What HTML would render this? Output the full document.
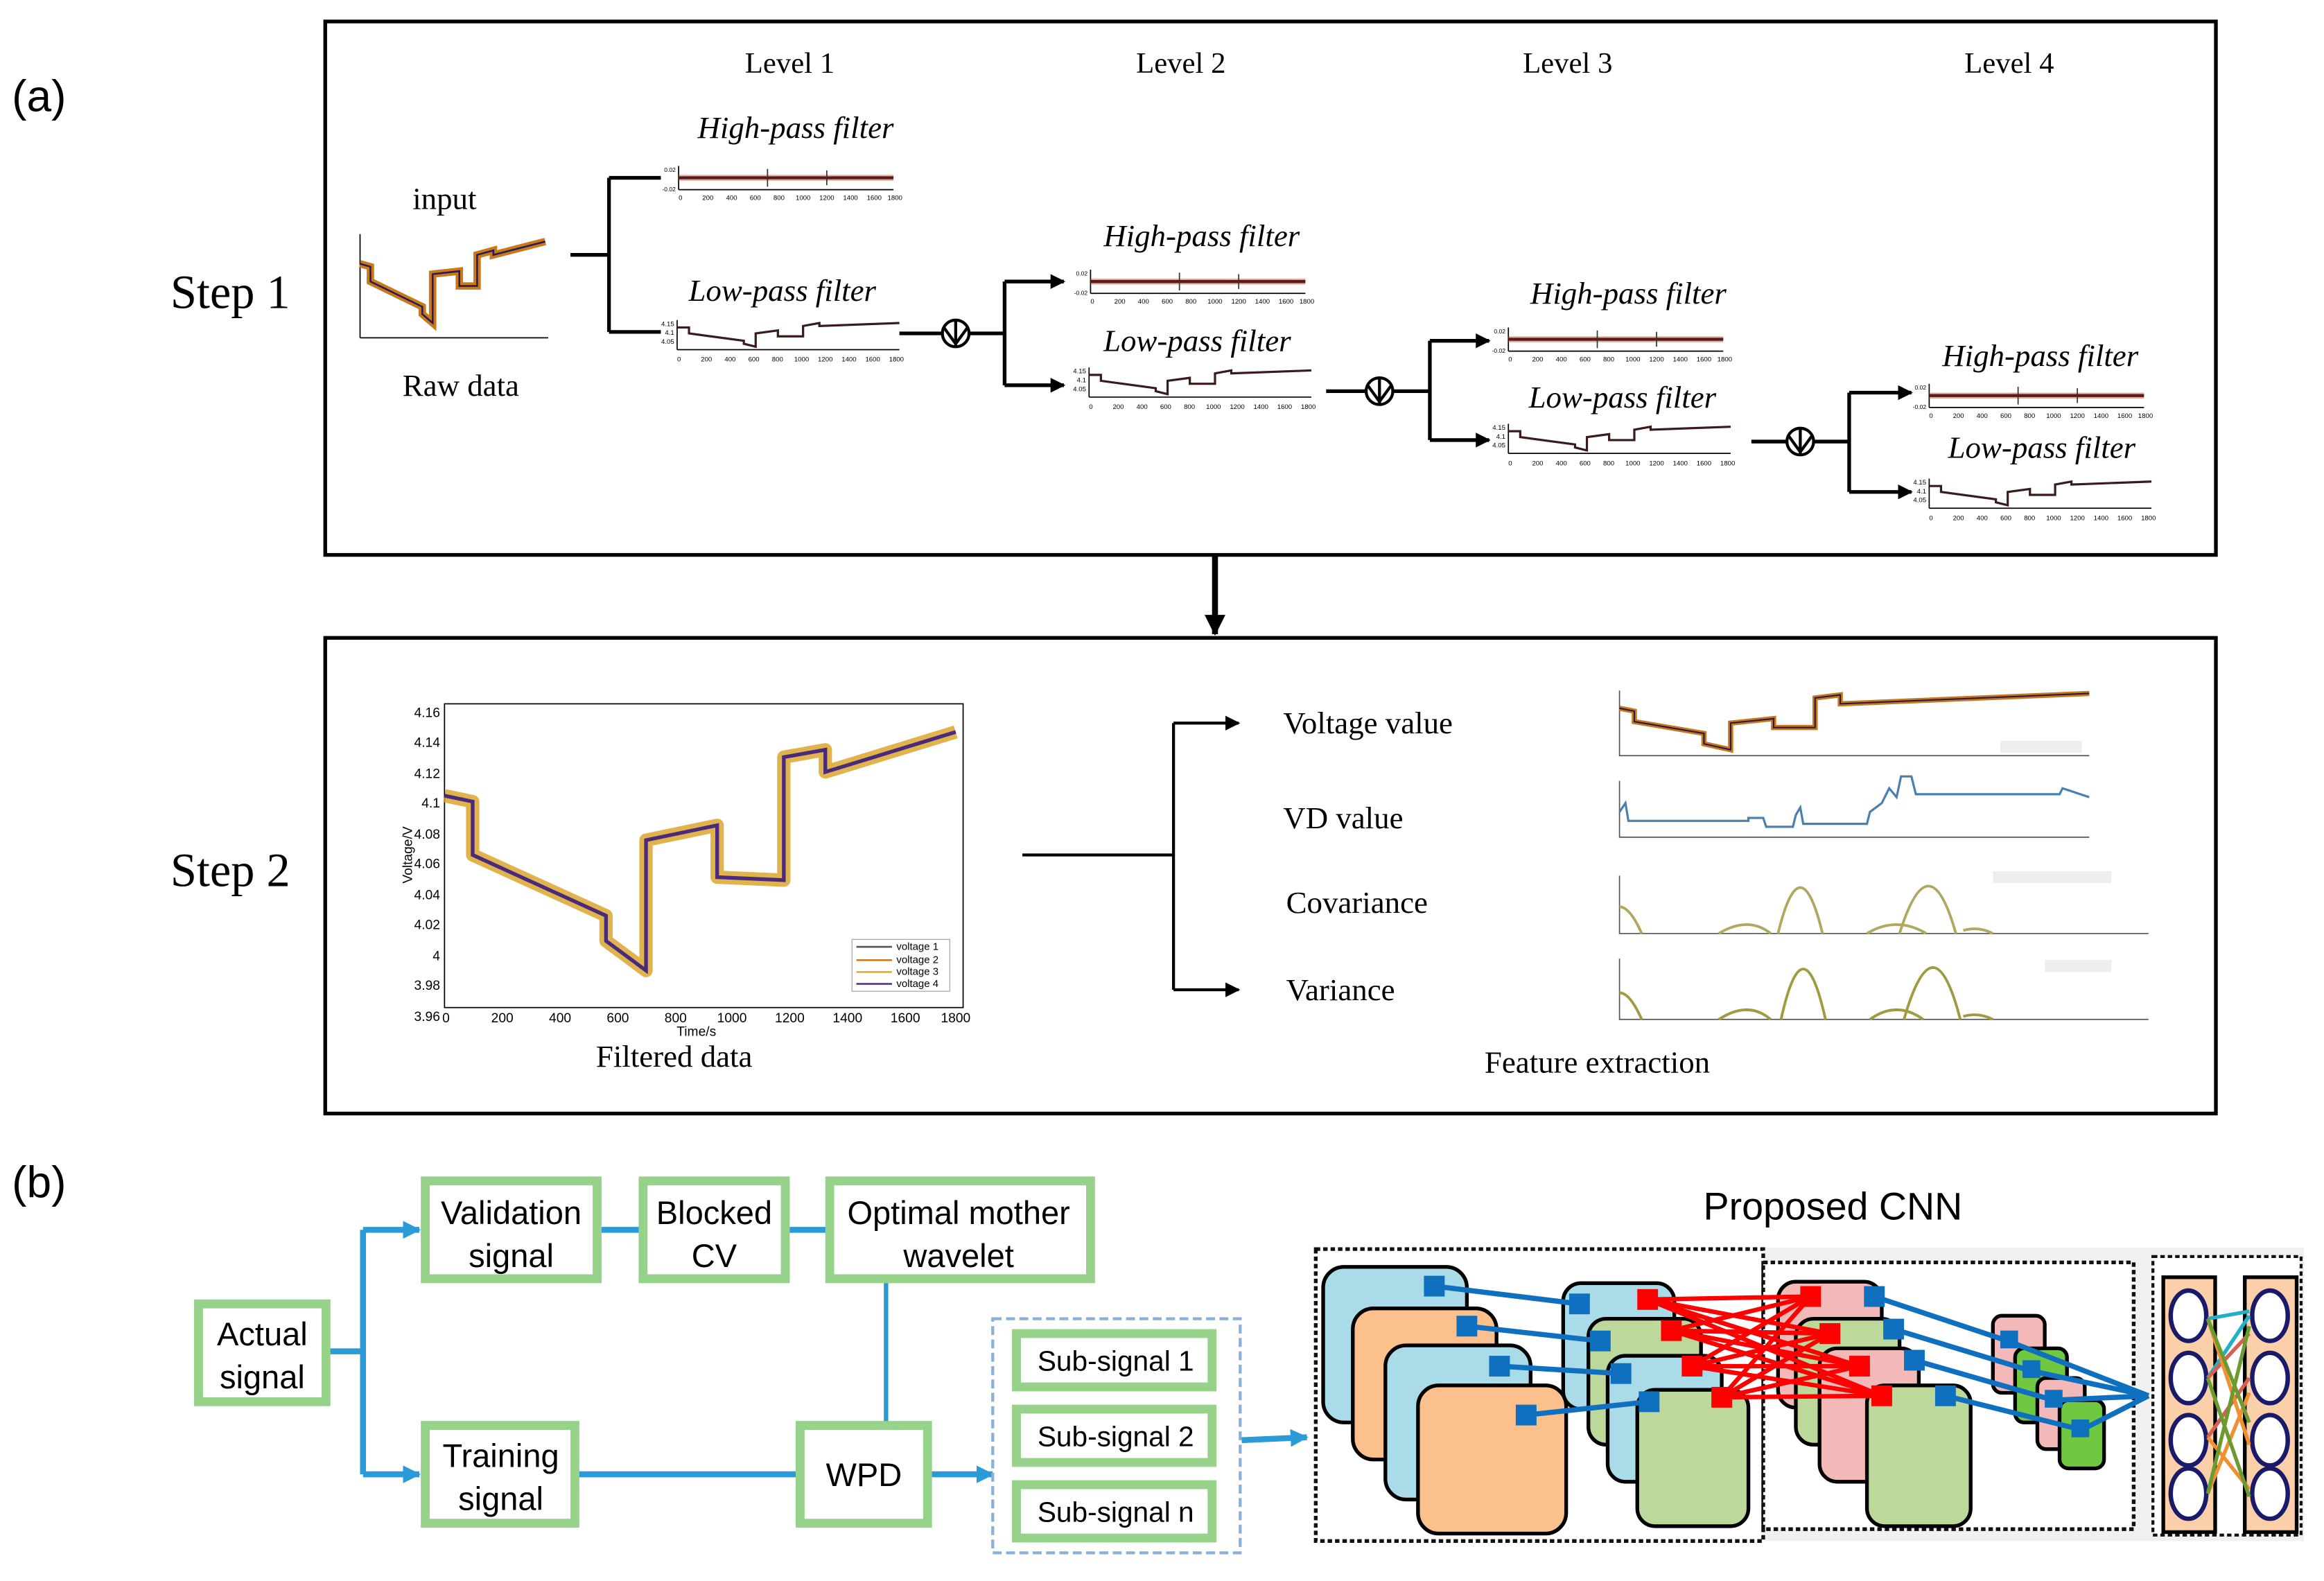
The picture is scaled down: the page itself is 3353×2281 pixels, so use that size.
<!DOCTYPE html>
<html><head><meta charset="utf-8"><style>html,body{margin:0;padding:0;background:#fff}svg{display:block}</style></head>
<body>
<svg width="3353" height="2281" viewBox="0 0 1568 1067" preserveAspectRatio="xMinYMin meet" xmlns="http://www.w3.org/2000/svg">
<defs>
<marker id="ab" markerWidth="10" markerHeight="10" refX="9" refY="5" orient="auto" markerUnits="userSpaceOnUse"><path d="M0,0 L10,5 L0,10z" fill="#000"/></marker>
<marker id="ab2" markerWidth="14" markerHeight="14" refX="13" refY="7" orient="auto" markerUnits="userSpaceOnUse"><path d="M0,0 L14,7 L0,14z" fill="#000"/></marker>
<marker id="bl" markerWidth="12" markerHeight="12" refX="11" refY="6" orient="auto" markerUnits="userSpaceOnUse"><path d="M0,0 L12,6 L0,12z" fill="#2a9ad8"/></marker>
<g id="hp">
<line x1="0" y1="-8" x2="0" y2="8" stroke="#000" stroke-width="0.8"/>
<line x1="0" y1="8" x2="145" y2="8" stroke="#000" stroke-width="0.8"/>
<path d="M0,0 L145,0" stroke="#c06040" stroke-width="4" opacity="0.5"/>
<line x1="0" y1="0" x2="145" y2="0" stroke="#5a1a1a" stroke-width="2"/>
<line x1="60" y1="-6" x2="60" y2="6" stroke="#333" stroke-width="0.8"/>
<line x1="100" y1="-5" x2="100" y2="5" stroke="#333" stroke-width="0.8"/>
<text x="-2" y="-4" font-size="4" text-anchor="end" font-family="Liberation Sans,sans-serif">0.02</text>
<text x="-2" y="9" font-size="4" text-anchor="end" font-family="Liberation Sans,sans-serif">-0.02</text>
<text y="15" font-size="4.5" font-family="Liberation Sans,sans-serif"><tspan x="0">0</tspan><tspan x="16">200</tspan><tspan x="32">400</tspan><tspan x="48">600</tspan><tspan x="64">800</tspan><tspan x="79">1000</tspan><tspan x="95">1200</tspan><tspan x="111">1400</tspan><tspan x="127">1600</tspan><tspan x="141">1800</tspan></text>
</g>
<g id="lp">
<line x1="0" y1="-2" x2="0" y2="18" stroke="#000" stroke-width="0.8"/>
<line x1="0" y1="18" x2="150" y2="18" stroke="#000" stroke-width="0.8"/>
<path d="M0,3 L8,3 L8,7 L45,12 L45,14 L53,16 L53,7 L68,5 L68,9 L85,9 L85,2 L96,0 L96,2 L150,0" fill="none" stroke="#3a1a1a" stroke-width="1.5"/>
<text x="-2" y="2" font-size="4.5" text-anchor="end" font-family="Liberation Sans,sans-serif">4.15</text>
<text x="-2" y="8" font-size="4.5" text-anchor="end" font-family="Liberation Sans,sans-serif">4.1</text>
<text x="-2" y="14" font-size="4.5" text-anchor="end" font-family="Liberation Sans,sans-serif">4.05</text>
<text y="26" font-size="4.5" font-family="Liberation Sans,sans-serif"><tspan x="0">0</tspan><tspan x="16">200</tspan><tspan x="32">400</tspan><tspan x="48">600</tspan><tspan x="64">800</tspan><tspan x="79">1000</tspan><tspan x="95">1200</tspan><tspan x="111">1400</tspan><tspan x="127">1600</tspan><tspan x="143">1800</tspan></text>
</g>
</defs>

<rect width="1568" height="1067" fill="#fff"/>
<g font-family="Liberation Sans,sans-serif" font-size="30"><text x="8" y="75">(a)</text><text x="8" y="808">(b)</text></g>

<rect x="219.5" y="14.5" width="1276" height="360" fill="none" stroke="#000" stroke-width="2.5"/>
<rect x="219.5" y="430.5" width="1276" height="321" fill="none" stroke="#000" stroke-width="2.5"/>
<line x1="820" y1="375" x2="820" y2="428" stroke="#000" stroke-width="4" marker-end="url(#ab2)"/>

<g font-family="Liberation Serif,serif">
<text x="115" y="208" font-size="32">Step 1</text>
<text x="115" y="598" font-size="32">Step 2</text>
<g font-size="20" text-anchor="middle"><text x="533" y="49">Level 1</text><text x="797" y="49">Level 2</text><text x="1058" y="49">Level 3</text><text x="1356" y="49">Level 4</text></g>
<text x="300" y="141" font-size="21" text-anchor="middle">input</text>
<text x="311" y="267" font-size="21" text-anchor="middle">Raw data</text>
<g font-size="21" font-style="italic" text-anchor="middle">
<text x="537" y="93">High-pass filter</text><text x="528" y="203">Low-pass filter</text>
<text x="811" y="166">High-pass filter</text><text x="808" y="237">Low-pass filter</text>
<text x="1099" y="205">High-pass filter</text><text x="1095" y="275">Low-pass filter</text>
<text x="1377" y="247">High-pass filter</text><text x="1378" y="309">Low-pass filter</text>
</g>
</g>

<g>
<line x1="243" y1="158" x2="243" y2="228" stroke="#000" stroke-width="0.8"/>
<line x1="243" y1="228" x2="370" y2="228" stroke="#000" stroke-width="0.8"/>
<path d="M243,178 L250,180 L250,190 L285,207 L285,212 L292,218 L292,185 L310,183 L310,193 L322,193 L322,172 L333,169 L333,172 L368,163" fill="none" stroke="#c87a1a" stroke-width="5"/>
<path d="M243,178 L250,180 L250,190 L285,207 L285,212 L292,218 L292,185 L310,183 L310,193 L322,193 L322,172 L333,169 L333,172 L368,163" fill="none" stroke="#2a1a5a" stroke-width="1.2"/>
</g>

<g stroke="#000" stroke-width="2.5" fill="none">
<path d="M385,172 H411 M411,120 V224 M411,120 H446 M411,224 H446"/>
<path d="M607,225 H636 M654,225 H678 M678,190 V260"/>
<path d="M895,264 H922 M940,264 H965 M965,230 V297"/>
<path d="M1182,298 H1206 M1224,298 H1248 M1248,265 V332"/>
</g>
<g stroke="#000" stroke-width="2.5" fill="none">
<line x1="678" y1="190" x2="718" y2="190" marker-end="url(#ab)"/>
<line x1="678" y1="260" x2="718" y2="260" marker-end="url(#ab)"/>
<line x1="965" y1="230" x2="1005" y2="230" marker-end="url(#ab)"/>
<line x1="965" y1="297" x2="1005" y2="297" marker-end="url(#ab)"/>
<line x1="1248" y1="265" x2="1290" y2="265" marker-end="url(#ab)"/>
<line x1="1248" y1="332" x2="1290" y2="332" marker-end="url(#ab)"/>
</g>
<g stroke="#000" stroke-width="2" fill="none">
<circle cx="645" cy="225" r="9"/><path d="M645,216 V234 M637,221 L645,232 L653,221"/>
<circle cx="931" cy="264" r="9"/><path d="M931,255 V273 M923,260 L931,271 L939,260"/>
<circle cx="1215" cy="298" r="9"/><path d="M1215,289 V307 M1207,294 L1215,305 L1223,294"/>
</g>

<use href="#hp" x="458" y="120"/>
<use href="#lp" x="457" y="218"/>
<use href="#hp" x="736" y="190"/>
<use href="#lp" x="735" y="250"/>
<use href="#hp" x="1018" y="229"/>
<use href="#lp" x="1018" y="288"/>
<use href="#hp" x="1302" y="267"/>
<use href="#lp" x="1302" y="325"/>

<g font-family="Liberation Sans,sans-serif" font-size="9">
<rect x="300" y="475" width="350" height="205" fill="none" stroke="#000" stroke-width="0.8"/>
<g text-anchor="end">
<text x="297" y="484">4.16</text><text x="297" y="504">4.14</text><text x="297" y="525">4.12</text><text x="297" y="545">4.1</text><text x="297" y="566">4.08</text><text x="297" y="586">4.06</text><text x="297" y="607">4.04</text><text x="297" y="627">4.02</text><text x="297" y="648">4</text><text x="297" y="668">3.98</text><text x="297" y="689">3.96</text>
</g>
<g text-anchor="middle"><text x="301" y="690">0</text><text x="339" y="690">200</text><text x="378" y="690">400</text><text x="417" y="690">600</text><text x="456" y="690">800</text><text x="494" y="690">1000</text><text x="533" y="690">1200</text><text x="572" y="690">1400</text><text x="611" y="690">1600</text><text x="645" y="690">1800</text></g>
<text x="470" y="699" text-anchor="middle">Time/s</text>
<text transform="translate(278,577) rotate(-90)" text-anchor="middle">Voltage/V</text>
<path d="M300,537 L319,541 L319,577 L409,618 L409,635 L436,655 L436,567 L484,557 L484,592 L529,594 L529,511 L557,506 L557,521 L645,494" fill="none" stroke="#d9a020" stroke-width="9" stroke-linejoin="round" opacity="0.8"/>
<path d="M300,537 L319,541 L319,577 L409,618 L409,635 L436,655 L436,567 L484,557 L484,592 L529,594 L529,511 L557,506 L557,521 L645,494" fill="none" stroke="#4a2a7a" stroke-width="2.5"/>
<rect x="575" y="634" width="66" height="35" fill="#fff" stroke="#999" stroke-width="0.5"/>
<g font-size="7"><text x="605" y="641">voltage 1</text><text x="605" y="650">voltage 2</text><text x="605" y="658">voltage 3</text><text x="605" y="666">voltage 4</text></g>
<g stroke-width="1.2"><line x1="578" y1="639" x2="602" y2="639" stroke="#555"/><line x1="578" y1="648" x2="602" y2="648" stroke="#c8781a"/><line x1="578" y1="656" x2="602" y2="656" stroke="#d8b020"/><line x1="578" y1="664" x2="602" y2="664" stroke="#4a2a7a"/></g>
</g>
<text x="455" y="720" font-family="Liberation Serif,serif" font-size="21" text-anchor="middle">Filtered data</text>

<g stroke="#000" stroke-width="2" fill="none">
<path d="M690,577 H792 M792,488 V668"/>
<line x1="792" y1="488" x2="836" y2="488" marker-end="url(#ab)"/>
<line x1="792" y1="668" x2="836" y2="668" marker-end="url(#ab)"/>
</g>
<g font-family="Liberation Serif,serif" font-size="21">
<text x="866" y="495">Voltage value</text><text x="866" y="559">VD value</text><text x="868" y="616">Covariance</text><text x="868" y="675">Variance</text>
<text x="1078" y="724" text-anchor="middle">Feature extraction</text>
</g>
<g fill="none">
<path d="M1093,466 V510 H1410" stroke="#555" stroke-width="0.8"/>
<path d="M1093,478 L1103,480 L1103,487 L1150,495 L1150,502 L1168,506 L1168,488 L1197,485 L1197,491 L1225,491 L1225,471 L1242,469 L1242,475 L1410,468" stroke="#c8781a" stroke-width="3.5"/>
<path d="M1093,478 L1103,480 L1103,487 L1150,495 L1150,502 L1168,506 L1168,488 L1197,485 L1197,491 L1225,491 L1225,471 L1242,469 L1242,475 L1410,468" stroke="#2a1a4a" stroke-width="1"/>
<rect x="1350" y="500" width="55" height="8" fill="#eee"/>
<path d="M1093,527 V565 H1410" stroke="#555" stroke-width="0.8"/>
<path d="M1093,548 L1097,542 L1099,554 L1180,554 L1180,552 L1190,552 L1192,558 L1210,558 L1212,550 L1215,545 L1217,556 L1260,556 L1262,548 L1270,542 L1275,532 L1280,538 L1283,524 L1290,524 L1293,536 L1390,536 L1392,532 L1410,538" stroke="#4a80b0" stroke-width="1.5"/>
<path d="M1093,591 V630 H1450" stroke="#555" stroke-width="0.8"/>
<path d="M1093,612 Q1100,612 1108,630 M1160,630 Q1180,618 1195,630 M1200,630 Q1215,568 1230,630 M1260,630 Q1280,618 1300,630 M1282,630 Q1302,566 1320,630 M1325,628 Q1335,625 1345,630" stroke="#b0a860" stroke-width="1.8"/>
<rect x="1345" y="588" width="80" height="8" fill="#eee"/>
<path d="M1093,647 V688 H1450" stroke="#555" stroke-width="0.8"/>
<path d="M1093,670 Q1100,670 1108,688 M1160,688 Q1180,675 1195,688 M1202,688 Q1217,620 1232,688 M1262,688 Q1280,675 1298,688 M1285,688 Q1305,618 1323,688 M1325,686 Q1335,683 1345,688" stroke="#a09a40" stroke-width="1.8"/>
<rect x="1380" y="648" width="45" height="8" fill="#eee"/>
</g>

<g stroke="#2a9ad8" stroke-width="4" fill="none">
<path d="M222,912 H245 M245,830 V995"/>
<line x1="245" y1="830" x2="283" y2="830" marker-end="url(#bl)"/>
<line x1="245" y1="995" x2="283" y2="995" marker-end="url(#bl)"/>
<path d="M405,830 H432 M532,830 H558"/>
<path d="M598,863 V960" stroke-width="3"/>
<path d="M390,995 H538"/>
<line x1="628" y1="995" x2="670" y2="995" marker-end="url(#bl)"/>
<line x1="838" y1="972" x2="882" y2="970" marker-end="url(#bl)"/>
</g>
<g fill="#fff" stroke="#96d28a" stroke-width="6">
<rect x="134" y="880" width="86" height="66"/>
<rect x="287" y="797" width="116" height="66"/>
<rect x="434" y="797" width="96" height="66"/>
<rect x="560" y="797" width="176" height="66"/>
<rect x="287" y="962" width="101" height="66"/>
<rect x="540" y="962" width="86" height="66"/>
</g>
<rect x="670" y="890" width="167" height="158" fill="none" stroke="#8ab0d8" stroke-width="2" stroke-dasharray="6,3"/>
<g fill="#fff" stroke="#96d28a" stroke-width="6">
<rect x="686" y="900" width="132" height="36"/>
<rect x="686" y="951" width="132" height="36"/>
<rect x="686" y="1002" width="132" height="36"/>
</g>
<g font-family="Liberation Sans,sans-serif" font-size="22" text-anchor="middle">
<text x="177" y="908">Actual</text><text x="177" y="937">signal</text>
<text x="345" y="826">Validation</text><text x="345" y="855">signal</text>
<text x="482" y="826">Blocked</text><text x="482" y="855">CV</text>
<text x="647" y="826">Optimal mother</text><text x="647" y="855">wavelet</text>
<text x="338" y="990">Training</text><text x="338" y="1019">signal</text>
<text x="583" y="1003">WPD</text>
<g font-size="19"><text x="753" y="925">Sub-signal 1</text><text x="753" y="976">Sub-signal 2</text><text x="753" y="1027">Sub-signal n</text></g>
<text x="1237" y="823" font-size="26">Proposed CNN</text>
</g>

<rect x="1190" y="842" width="365" height="198" fill="#f0f0f0"/>
<rect x="888" y="843" width="302" height="197" fill="#fff" stroke="#111" stroke-width="2.5" stroke-dasharray="3,2"/>
<rect x="1190" y="852" width="250" height="180" fill="#fff" stroke="#111" stroke-width="2.5" stroke-dasharray="3,2"/>
<rect x="1453" y="848" width="100" height="188" fill="#fff" stroke="#111" stroke-width="2" stroke-dasharray="3,2"/>
<g stroke="#000" stroke-width="2.5">
<rect x="893" y="855" width="97" height="105" rx="14" fill="#a9dce8"/>
<rect x="913" y="883" width="97" height="102" rx="14" fill="#fbc08c"/>
<rect x="935" y="908" width="98" height="104" rx="14" fill="#a9dce8"/>
<rect x="957" y="935" width="100" height="100" rx="14" fill="#fbc08c"/>
<rect x="1055" y="866" width="75" height="85" rx="12" fill="#a9dce8"/>
<rect x="1072" y="890" width="76" height="85" rx="12" fill="#bcd89a"/>
<rect x="1085" y="915" width="77" height="85" rx="12" fill="#a9dce8"/>
<rect x="1105" y="938" width="75" height="92" rx="12" fill="#bcd89a"/>
<rect x="1200" y="865" width="70" height="85" rx="12" fill="#f3b8b8"/>
<rect x="1212" y="890" width="70" height="85" rx="12" fill="#bcd89a"/>
<rect x="1228" y="910" width="67" height="90" rx="12" fill="#f3b8b8"/>
<rect x="1260" y="935" width="70" height="95" rx="12" fill="#bcd89a"/>
<rect x="1345" y="888" width="35" height="52" rx="6" fill="#f3b8b8"/>
<rect x="1360" y="910" width="35" height="50" rx="6" fill="#70c840"/>
<rect x="1375" y="930" width="32" height="48" rx="6" fill="#f3b8b8"/>
<rect x="1390" y="945" width="30" height="46" rx="6" fill="#70c840"/>
</g>
<g stroke="#f00" stroke-width="3">
<path d="M1112,877 L1222,875 M1112,877 L1235,900 M1112,877 L1255,922 M1112,877 L1270,942 M1128,898 L1222,875 M1128,898 L1235,900 M1128,898 L1255,922 M1128,898 L1270,942 M1142,922 L1222,875 M1142,922 L1235,900 M1142,922 L1255,922 M1142,922 L1270,942 M1162,943 L1222,875 M1162,943 L1235,900 M1162,943 L1255,922 M1162,943 L1270,942"/>
</g>
<g fill="#f00"><rect x="1105" y="870" width="14" height="14"/><rect x="1121" y="891" width="14" height="14"/><rect x="1135" y="915" width="14" height="14"/><rect x="1155" y="936" width="14" height="14"/><rect x="1215" y="868" width="14" height="14"/><rect x="1228" y="893" width="14" height="14"/><rect x="1248" y="915" width="14" height="14"/><rect x="1263" y="935" width="14" height="14"/></g>
<g stroke="#1070c0" stroke-width="3.5" fill="none">
<path d="M968,868 L1066,880 M990,895 L1080,905 M1012,922 L1094,927 M1030,955 L1113,946"/>
<path d="M1265,875 L1355,905 L1450,942 M1278,897 L1370,925 L1450,942 M1292,918 L1386,945 L1450,942 M1313,942 L1405,965 L1450,942"/>
</g>
<g fill="#1070c0"><rect x="961" y="861" width="14" height="14"/><rect x="983" y="888" width="14" height="14"/><rect x="1005" y="915" width="14" height="14"/><rect x="1023" y="948" width="14" height="14"/><rect x="1059" y="873" width="14" height="14"/><rect x="1073" y="898" width="14" height="14"/><rect x="1087" y="920" width="14" height="14"/><rect x="1106" y="939" width="14" height="14"/><rect x="1258" y="868" width="14" height="14"/><rect x="1271" y="890" width="14" height="14"/><rect x="1285" y="911" width="14" height="14"/><rect x="1306" y="935" width="14" height="14"/><rect x="1350" y="898" width="12" height="12"/><rect x="1365" y="918" width="12" height="12"/><rect x="1380" y="938" width="12" height="12"/><rect x="1398" y="958" width="12" height="12"/></g>
<g stroke="#000" stroke-width="2.5" fill="#fbd0a8"><rect x="1460" y="862" width="35" height="172"/><rect x="1515" y="862" width="35" height="172"/></g>
<g stroke="#1a1a6a" stroke-width="3" fill="#fff">
<ellipse cx="1477" cy="888" rx="12" ry="17"/><ellipse cx="1477" cy="930" rx="12" ry="17"/><ellipse cx="1477" cy="972" rx="12" ry="17"/><ellipse cx="1477" cy="1008" rx="12" ry="17"/>
<ellipse cx="1532" cy="888" rx="12" ry="17"/><ellipse cx="1532" cy="930" rx="12" ry="17"/><ellipse cx="1532" cy="972" rx="12" ry="17"/><ellipse cx="1532" cy="1008" rx="12" ry="17"/>
</g>
<g stroke-width="2.5" fill="none">
<path d="M1490,890 L1518,885 M1490,930 L1518,888" stroke="#20b0c8"/>
<path d="M1490,930 L1518,900 M1490,970 L1518,930" stroke="#d86050"/>
<path d="M1490,890 L1518,975 M1490,970 L1518,1005 M1490,1008 L1518,940" stroke="#f09030"/>
<path d="M1490,1008 L1518,895 M1490,930 L1518,1010 M1490,890 L1518,960" stroke="#6a9a30"/>
</g>
</svg>
</body></html>
